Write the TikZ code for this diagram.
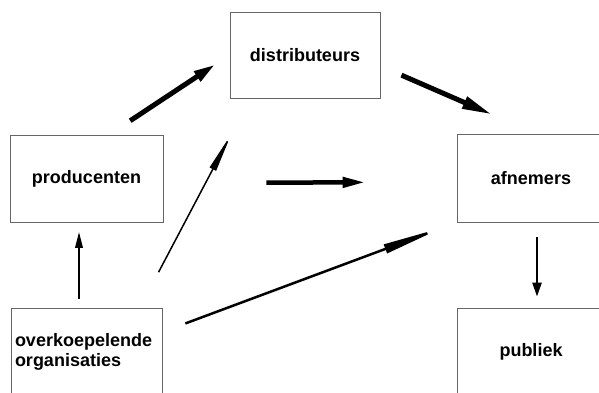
\documentclass[tikz,border=0pt]{standalone}
\usepackage{fontspec}
\setmainfont{Liberation Sans}
\usetikzlibrary{arrows.meta,positioning}

\begin{document}
\begin{tikzpicture}[x=1pt,y=-1pt,
			blok/.style={draw=black!60,line width=0.8pt,inner sep=3pt,minimum width=151pt,minimum height=87pt,
				font=\fontsize{18}{20}\selectfont\bfseries}]
		\useasboundingbox (0,0) rectangle (599,392);
		\path 	(305,55) 	node 	(distr) [blok, minimum width=150pt, minimum height=86pt] {distributeurs}
		        (86.5,179) 	node 	(prod) [blok, minimum width=153pt] {producenten}
		        (531,178) 	node 	(afn) [blok, minimum width=148pt, minimum height=88pt] {afnemers}
		        (86.5,352) 	node 	(overk) [blok, minimum height=88pt, text width=143pt, align=left] {overkoepelende\\organisaties}
		        (531,352) 	node 	(publ) [blok, minimum width=148pt, minimum height=88pt] {publiek};
		% dikke pijlen
		\draw [line width=5pt, -{Triangle[length=22pt,width=11pt]}, shorten <=26pt, shorten >=17pt] ([xshift=22pt]prod.north) -- (distr.west);
		\draw [line width=5pt, -{Triangle[length=30pt,width=12pt]}, shorten <=23pt, shorten >=48pt] ([yshift=-11pt]distr.east) -- ([xshift=5pt]afn.north);
		\draw [line width=4.5pt, -{Triangle[length=23pt,width=10pt]}, shorten <=103pt, shorten >=91pt] ([yshift=-4pt]prod.east) -- ([yshift=-4pt]afn.west);
		% dunne pijlen
		\draw [line width=1.5pt, -{Triangle[length=40pt,width=7pt]}, shorten <=40pt, shorten >=40pt] ([xshift=-22.5pt]overk.north east) -- ([xshift=20.5pt]distr.south west);
		\draw [line width=2.5pt, -{Triangle[length=62pt,width=9pt]}, shorten <=24.5pt, shorten >=14pt] ([yshift=20pt]overk.east) -- (afn.south west);
		\draw [line width=2pt, -{Triangle[length=16pt,width=7.5pt]}, shorten <=9pt, shorten >=9pt] ([xshift=-7.5pt]overk.north) -- ([xshift=-7.5pt]prod.south);
		\draw [line width=2.5pt, -{Triangle[length=14pt,width=9pt]}, shorten <=15pt, shorten >=11pt] ([xshift=6pt]afn.south) -- ([xshift=6pt]publ.north);
	\end{tikzpicture}
\end{document}
